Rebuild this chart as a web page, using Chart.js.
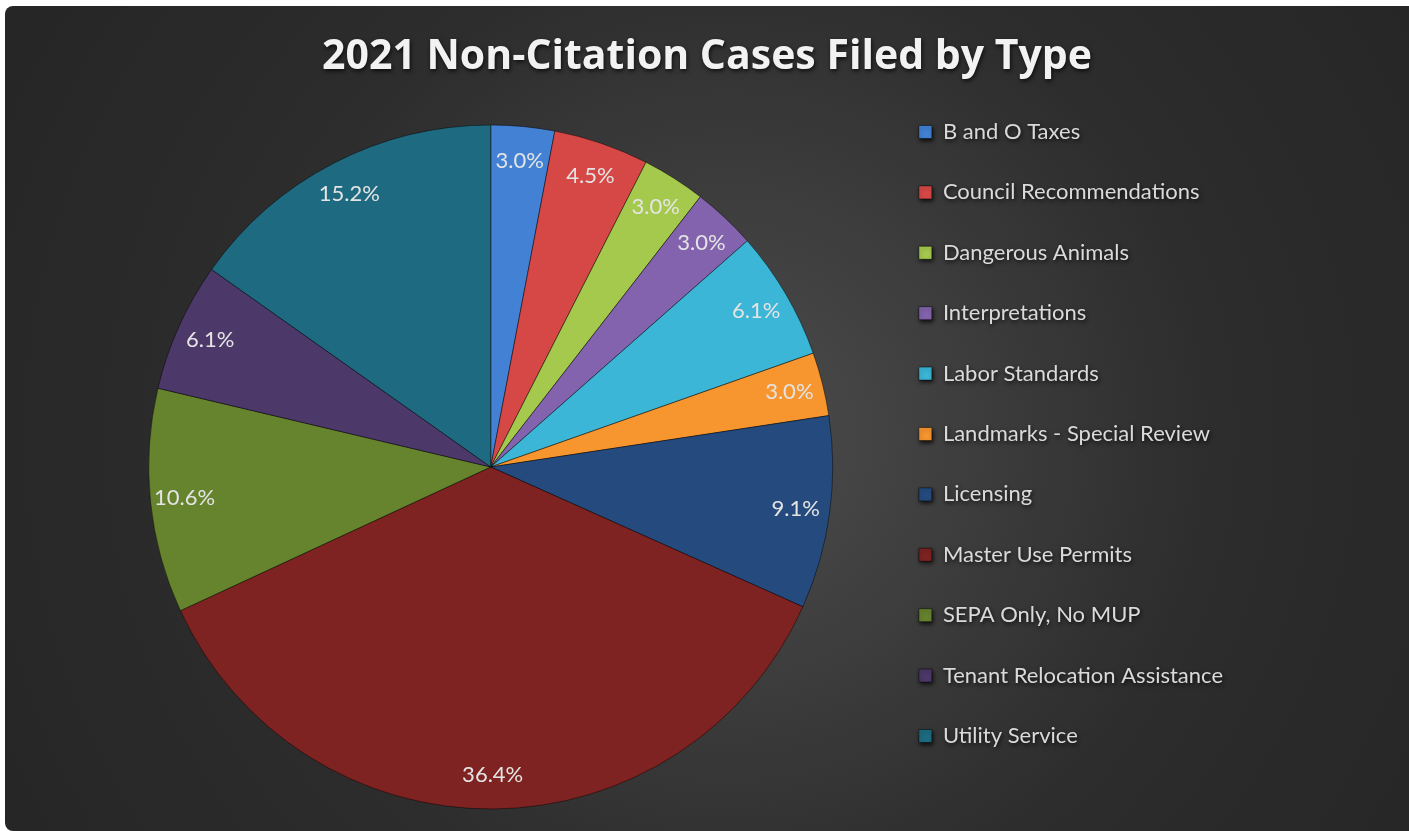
<!DOCTYPE html>
<html>
<head>
<meta charset="utf-8">
<title>2021 Non-Citation Cases Filed by Type</title>
<script src="https://cdn.jsdelivr.net/npm/chart.js@4.4.1/dist/chart.umd.min.js"></script>
<style>
  html, body { margin: 0; padding: 0; background: #fff; }
  #box {
    position: absolute;
    left: 5px;
    top: 6px;
    width: 1404px;
    height: 825px;
    border-radius: 8px 0 0 8px;
    overflow: hidden;
    background: radial-gradient(circle at 725px 430px, #4c4c4c 0px, #3f3f3f 210px, #2d2d2d 480px, #262626 800px);
  }
</style>
</head>
<body>
<div id="box"><canvas id="myChart"></canvas></div>
<script>
const chartTitle = '2021 Non-Citation Cases Filed by Type'

const categories = [
  'B and O Taxes',
  'Council Recommendations',
  'Dangerous Animals',
  'Interpretations',
  'Labor Standards',
  'Landmarks - Special Review',
  'Licensing',
  'Master Use Permits',
  'SEPA Only, No MUP',
  'Tenant Relocation Assistance',
  'Utility Service'
]

// share of cases, in percent, as printed on the slices
const shares = [3.0, 4.5, 3.0, 3.0, 6.1, 3.0, 9.1, 36.4, 10.6, 6.1, 15.2]

const colors = [
  '#4281d4', '#d64846', '#a5c94d', '#8363ad', '#3bb6d6', '#f7952f',
  '#254b7e', '#7e2321', '#66832d', '#4d386a', '#1e6b81'
]

// percent labels inside each slice, near the rim
const sliceLabels = {
  id: 'sliceLabels',
  afterDatasetsDraw(chart) {
    const ctx = chart.ctx
    const meta = chart.getDatasetMeta(0)
    ctx.save()
    ctx.font = '22px Lato'
    ctx.fillStyle = '#e4e4e4'
    ctx.textAlign = 'center'
    ctx.textBaseline = 'middle'
    meta.data.forEach((arc, i) => {
      const { x, y, startAngle, endAngle, outerRadius } =
        arc.getProps(['x', 'y', 'startAngle', 'endAngle', 'outerRadius'], true)
      const mid = (startAngle + endAngle) / 2
      const r = outerRadius * 0.9
      ctx.fillText(shares[i].toFixed(1) + '%', x + Math.cos(mid) * r, y + Math.sin(mid) * r)
    })
    ctx.restore()
  }
}

// centre the title over the whole canvas and give it a drop shadow
const titleStyle = {
  id: 'titleStyle',
  afterLayout(chart) {
    chart.titleBlock.left = 0
    chart.titleBlock.right = chart.width
  },
  beforeDraw(chart) {
    const ctx = chart.ctx
    ctx.save()
    ctx.shadowColor = 'rgba(0, 0, 0, 0.75)'
    ctx.shadowBlur = 4
    ctx.shadowOffsetX = 1
    ctx.shadowOffsetY = 2
  },
  beforeDatasetsDraw(chart) {
    chart.ctx.restore()
  }
}

const config = {
  type: 'pie',
  data: {
    labels: categories,
    datasets: [{
      data: shares,
      backgroundColor: colors,
      borderColor: 'rgba(0, 0, 0, 0.45)',
      borderWidth: 1,
      radius: 342
    }]
  },
  options: {
    responsive: true,
    maintainAspectRatio: false,
    animation: false,
    layout: {
      padding: { top: 31, bottom: 0, left: 96, right: 176 }
    },
    plugins: {
      title: {
        display: true,
        text: chartTitle,
        color: '#f2f2f2',
        font: { family: 'Open Sans', size: 41, weight: 'bold', lineHeight: 1 },
        padding: { top: 0, bottom: 25 }
      },
      legend: {
        position: 'right',
        align: 'center',
        labels: {
          color: '#dadada',
          font: { family: 'Lato', size: 22 },
          boxWidth: 13,
          boxHeight: 13,
          padding: 38.4
        },
        onClick: null
      },
      tooltip: { enabled: false }
    }
  },
  plugins: [sliceLabels, titleStyle]
}

const myChart = new Chart(document.getElementById('myChart'), config)
</script>
</body>
</html>
